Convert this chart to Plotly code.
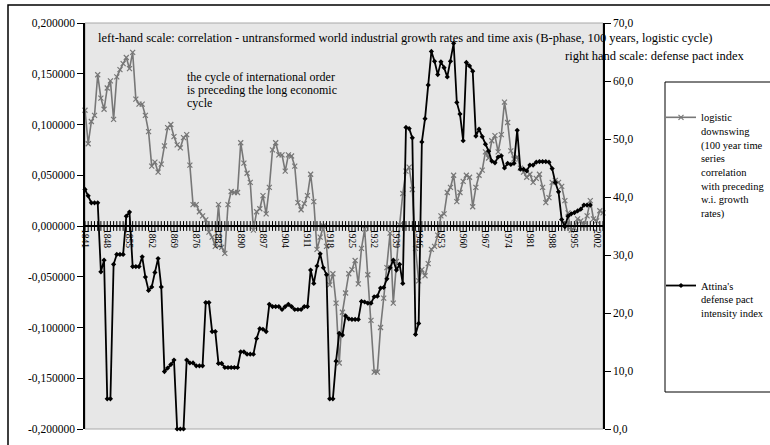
import plotly.graph_objects as go

# ---------------- data ----------------
years = list(range(1841, 2005))
correlation = [
    0.114, 0.081, 0.103, 0.109, 0.149, 0.126, 0.115, 0.136, 0.143, 0.105,   # 1841-1850
    0.147, 0.154, 0.160, 0.166, 0.155, 0.171, 0.125, 0.120, 0.120, 0.109,   # 1851-1860
    0.093, 0.059, 0.063, 0.053, 0.061, 0.079, 0.097, 0.100, 0.088, 0.080,   # 1861-1870
    0.077, 0.087, 0.090, 0.060, 0.021, 0.021, 0.014, 0.010, 0.006, -0.006,  # 1871-1880
    -0.011, -0.020, 0.021, -0.021, -0.027, 0.021, 0.034, 0.033, 0.033, 0.082,  # 1881-1890
    0.062, 0.052, 0.043, -0.004, 0.014, 0.017, 0.030, 0.012, 0.038, 0.075,  # 1891-1900
    0.082, 0.070, 0.070, 0.054, 0.070, 0.069, 0.059, 0.023, 0.016, 0.022,   # 1901-1910
    0.030, 0.051, 0.024, -0.023, -0.011, 0.000, -0.020, -0.058, -0.047, -0.076,  # 1911-1920
    -0.135, -0.085, -0.066, -0.047, -0.043, -0.034, -0.057, -0.022, -0.003, -0.048,  # 1921-1930
    -0.093, -0.144, -0.144, -0.100, -0.071, -0.041, -0.007, -0.076, -0.035, 0.001,  # 1931-1940
    0.032, 0.054, 0.058, 0.036, -0.022, -0.054, -0.043, -0.049, -0.037, -0.023,  # 1941-1950
    -0.020, -0.009, 0.010, 0.012, 0.033, 0.038, 0.050, 0.024, 0.033, 0.044,  # 1951-1960
    0.050, 0.048, 0.019, 0.038, 0.050, 0.055, 0.073, 0.067, 0.084, 0.089,   # 1961-1970
    0.073, 0.090, 0.122, 0.102, 0.074, 0.066, 0.068, 0.057, 0.053, 0.048,   # 1971-1980
    0.051, 0.043, 0.047, 0.051, 0.038, 0.023, 0.028, 0.043, 0.045, 0.043,   # 1981-1990
    0.039, 0.025, 0.013, -0.004, -0.002, 0.007, 0.005, 0.001, 0.010, 0.025,  # 1991-2000
    0.007, 0.005, 0.015, 0.013,                                             # 2001-2004
]

pact_years = list(range(1841, 2001))
defense_pact = [
    41.3, 40.2, 39.0, 39.0, 39.0, 27.1, 29.1, 5.2, 5.2, 28.4,      # 1841-1850
    30.1, 30.1, 30.1, 36.7, 37.4, 28.0, 28.0, 28.0, 29.7, 26.2,    # 1851-1860
    23.9, 24.5, 27.0, 29.4, 24.5, 9.9, 10.5, 11.1, 11.9, 0.0,      # 1861-1870
    0.0, 0.0, 11.9, 11.4, 11.4, 10.9, 10.9, 10.9, 21.8, 21.8,      # 1871-1880
    16.8, 16.8, 11.3, 11.3, 10.6, 10.6, 10.6, 10.6, 10.6, 13.3,    # 1881-1890
    13.3, 12.9, 12.9, 12.9, 15.6, 17.3, 17.2, 16.8, 21.5, 21.1,    # 1891-1900
    21.1, 21.1, 20.6, 21.1, 21.5, 21.1, 20.6, 20.6, 20.6, 21.1,    # 1901-1910
    21.1, 27.4, 25.1, 28.1, 30.2, 27.8, 26.6, 5.2, 5.2, 11.7,      # 1911-1920
    16.5, 16.2, 19.5, 19.0, 18.9, 18.9, 18.9, 22.0, 21.9, 21.7,    # 1921-1930
    21.7, 22.8, 22.9, 24.3, 24.4, 25.9, 27.8, 29.1, 27.4, 28.4,    # 1931-1940
    25.1, 52.0, 51.8, 50.2, 16.3, 18.2, 49.5, 53.5, 59.3, 65.1,    # 1941-1950
    63.4, 61.1, 63.3, 62.3, 60.7, 63.4, 66.5, 56.3, 54.3, 49.7,    # 1951-1960
    63.2, 62.6, 61.7, 50.5, 51.7, 50.4, 49.1, 47.9, 46.2, 45.9,    # 1961-1970
    46.9, 47.1, 45.0, 45.8, 45.6, 45.8, 51.5, 44.8, 44.8, 44.5,    # 1971-1980
    45.5, 45.5, 46.0, 46.1, 46.1, 46.1, 46.0, 44.9, 42.5, 40.9,    # 1981-1990
    36.1, 34.9, 36.7, 37.1, 37.3, 37.6, 37.9, 38.6, 38.6, 38.6,    # 1991-2000
]

x_tick_years = list(range(1841, 2005, 7))
left_tick_vals = [-0.2, -0.15, -0.1, -0.05, 0.0, 0.05, 0.1, 0.15, 0.2]
left_tick_text = ["-0,200000", "-0,150000", "-0,100000", "-0,050000", "0,000000",
                  "0,050000", "0,100000", "0,150000", "0,200000"]
right_tick_vals = [0, 10, 20, 30, 40, 50, 60, 70]
right_tick_text = ["0,0", "10,0", "20,0", "30,0", "40,0", "50,0", "60,0", "70,0"]

name_corr = ("logistic<br>downswing<br>(100 year time<br>series<br>correlation<br>"
             "with preceding<br>w.i. growth<br>rates)")
name_pact = "Attina's<br>defense pact<br>intensity index"

title_text = ("left-hand scale: correlation - untransformed world industrial growth rates "
              "and time axis (B-phase, 100 years, logistic cycle)")
right_note = "right hand scale: defense pact index"
note_lines = ["the cycle of international order", "is preceding the long economic", "cycle"]

# ---------------- figure ----------------
FONT = "Liberation Serif, Times New Roman, serif"
W, H = 770, 445
L, R, T, B = 85, 167, 23, 16
PW, PH = W - L - R, H - T - B


def px_x(px):
    return (px - L) / PW


def px_y(py):
    return (H - B - py) / PH


fig = go.Figure()

# year tick marks crossing the zero axis
fig.add_trace(go.Scatter(
    x=years, y=[0] * len(years), mode="markers",
    marker=dict(symbol="line-ns-open", size=7, color="black",
                line=dict(color="black", width=1)),
    showlegend=False, hoverinfo="skip", cliponaxis=False,
))

fig.add_trace(go.Scatter(
    x=years, y=correlation, mode="lines+markers", name=name_corr,
    legendgroup="a",
    line=dict(color="#777777", width=1.6),
    marker=dict(symbol="x-thin", size=5, color="#777777",
                line=dict(color="#777777", width=1.2)),
    cliponaxis=False,
))

fig.add_trace(go.Scatter(
    x=pact_years, y=defense_pact, mode="lines+markers", name=name_pact,
    legendgroup="b", yaxis="y2",
    line=dict(color="black", width=1.8),
    marker=dict(symbol="diamond", size=4, color="black"),
    cliponaxis=False,
))

axis_font = dict(family=FONT, size=11.5, color="black")
note_font = dict(family=FONT, size=12.5, color="black")
body_font = dict(family=FONT, size=12, color="black")

fig.update_layout(
    width=W, height=H,
    margin=dict(l=L, r=R, t=T, b=B, autoexpand=False),
    paper_bgcolor="white",
    plot_bgcolor="#e7e7e7",
    font=dict(family=FONT, color="black"),
    xaxis=dict(
        range=[1841, 2004], anchor="free", position=0.5,
        showline=True, linecolor="black", linewidth=2,
        ticks="", tickvals=x_tick_years, ticktext=[str(v) for v in x_tick_years],
        tickangle=90, tickfont=dict(family=FONT, size=9.5, color="black"),
        showgrid=False, zeroline=False,
    ),
    yaxis=dict(
        range=[-0.2, 0.2], tickvals=left_tick_vals, ticktext=left_tick_text,
        ticks="outside", ticklen=6, tickcolor="black", tickwidth=1.2,
        showline=True, linecolor="black", linewidth=1.5,
        showgrid=False, zeroline=False, tickfont=axis_font,
    ),
    yaxis2=dict(
        range=[0, 70], overlaying="y", side="right",
        tickvals=right_tick_vals, ticktext=right_tick_text,
        ticks="outside", ticklen=6, tickcolor="black", tickwidth=1.2,
        showline=True, linecolor="black", linewidth=1.5,
        showgrid=False, zeroline=False, tickfont=axis_font,
    ),
    legend=dict(
        x=px_x(661), y=px_y(104), xanchor="left", yanchor="top",
        bgcolor="rgba(0,0,0,0)", borderwidth=0,
        font=dict(family=FONT, size=10.5, color="black"),
        tracegroupgap=56, valign="top", itemwidth=30,
    ),
    showlegend=True,
    shapes=[
        # outer chart border
        dict(type="rect", xref="paper", yref="paper",
             x0=px_x(8), x1=px_x(800), y0=px_y(480), y1=px_y(5),
             line=dict(color="black", width=1.5), fillcolor="rgba(0,0,0,0)", layer="below"),
        # plot area border
        dict(type="rect", xref="paper", yref="paper", x0=0, x1=1, y0=0, y1=1,
             line=dict(color="#a8a8a8", width=1), fillcolor="rgba(0,0,0,0)", layer="below"),
        # legend box
        dict(type="rect", xref="paper", yref="paper",
             x0=px_x(665), x1=px_x(800), y0=px_y(392), y1=px_y(82),
             line=dict(color="black", width=1), fillcolor="white", layer="below"),
    ],
    annotations=[
        dict(xref="paper", yref="paper", x=px_x(96), y=px_y(38), xanchor="left",
             yanchor="middle", text=title_text, showarrow=False, font=note_font),
        dict(xref="paper", yref="paper", x=px_x(746), y=px_y(56), xanchor="right",
             yanchor="middle", text=right_note, showarrow=False, font=note_font),
    ] + [
        dict(xref="paper", yref="paper", x=px_x(185), y=px_y(77 + 13 * i),
             xanchor="left", yanchor="middle", text=line, showarrow=False,
             font=body_font)
        for i, line in enumerate(note_lines)
    ],
)

fig.write_html(
    "out.html",
    config={"displayModeBar": False},
    post_script="document.body.style.margin='0px';document.body.style.overflow='hidden';",
)
